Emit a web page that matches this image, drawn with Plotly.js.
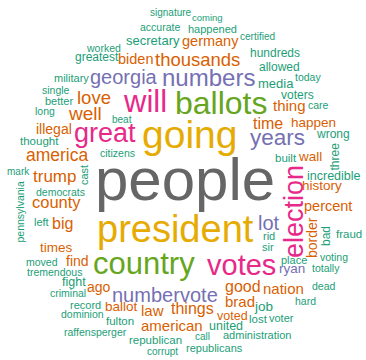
<!DOCTYPE html>
<html>
<head>
<meta charset="utf-8">
<script src="https://cdn.plot.ly/plotly-3.0.1.min.js"></script>
<style>html,body{margin:0;padding:0;background:#fff;}#chart{width:366px;height:360px;}</style>
</head>
<body>
<div id="chart"></div>
<script>
// Word cloud data: word, weight (rendered size), cloud position, colour group, orientation
var words = ["signature","coming","accurate","happened","certified","secretary","germany","worked","hundreds","greatest",
"biden","thousands","allowed","today","military","georgia","numbers","media","single","voters",
"better","love","will","ballots","thing","care","long","well","beat","time",
"happen","illegal","great","going","years","wrong","thought","built","wall","citizens",
"america","mark","people","incredible","trump","history","democrats","county","percent","lot",
"left","big","president","rid","fraud","sir","times","voting","moved","find",
"country","votes","place","ryan","totally","tremendous","fight","dead","criminal","ago",
"number","vote","good","nation","record","ballot","law","things","brad","job",
"dominion","fulton","voted","hard","american","united","lost","voter","raffensperger","republican",
"call","administration","corrupt","republicans","cast","pennsylvania","election","border","bad","three"];

var weight = [10,9.5,10.5,11,10,13,14.5,10.5,12,12,
14.5,18.5,12,10.5,11,20,24,13,10.5,12,
11,18.5,31,32,15,10.5,10.5,19,10,16,
13.5,14,27,39,22.5,12,11.5,11.5,13.5,10.5,
17.5,10,60,12.5,17,13.5,10.5,16.5,14.5,20,
11,16,38,11,11.5,11,13.5,10.5,10.5,14,
31,29,11,13.5,10.5,10.5,12.5,10.5,10.5,14,
20,20,16,15,11,13.5,15,16,15,13.5,
10.5,11.5,12.5,10.5,15,12.5,11.5,11,10.5,11.5,
10,11,10,11,11,10.5,27,14,12,12];

var wordX = [170.5,207,160,212,257.5,152.5,210,103,275,96.5,
135.5,197.5,279,308,71.5,123.5,208.5,275.5,55.5,297,
59,94,144.5,221.5,289,318,44.5,84.5,122,267.5,
313.5,54,105,189.5,277.5,332.5,39.5,285.5,310,117.5,
57,18,184.5,333.5,54.5,322,60,56.5,327.5,269,
41.5,62,175.5,268.5,349,267.5,56.5,333.5,42,77.5,
143.5,241,294,291.5,326,54.5,73.5,323.5,67.5,99,
146,199,242.5,283,85,121,152,192.5,240,263.5,
82,120,232.5,305,171.5,226,258,281.5,95,155.5,
202,256.5,162,214,84,19.5,293.5,312,326,334];

var wordY = [13,18,28,30,37,42,42,49,54,58,
60,61,68,78,79,79,80,85,91,96,
102,99,104,106,107,106,112,115,120,125,
124,130,135,138,140,135,142,159,158,154,
157,172,185,177,178,187,193,203,207,225,
223,225,232,237,235,248,249,258,263,262,
266,268,261,270,269,273,283,287,294,288,
297,297,288,290,306,308,312,310,303,308,
315,322,317,302,327,327,320,319,333,341,
337,336,352,349,175,212,211.5,238,236,156.5];

// colour group: 0 teal, 1 orange, 2 purple, 3 pink, 4 green, 5 yellow, 6 grey
var colorGroup = [0,0,0,0,0,0,1,0,0,0,
1,1,0,0,0,2,2,0,0,0,
0,1,3,4,1,0,0,1,0,1,
1,1,3,5,2,0,0,0,1,0,
1,0,6,0,1,1,0,1,1,2,
0,1,5,0,0,0,1,0,0,1,
4,3,0,2,0,0,0,0,0,1,
2,2,1,1,0,1,1,1,1,0,
0,0,1,0,1,0,0,0,0,0,
0,0,0,0,0,0,3,1,0,0];

// orientation: 1 = vertical (reads bottom to top)
var vertical = [0,0,0,0,0,0,0,0,0,0,
0,0,0,0,0,0,0,0,0,0,
0,0,0,0,0,0,0,0,0,0,
0,0,0,0,0,0,0,0,0,0,
0,0,0,0,0,0,0,0,0,0,
0,0,0,0,0,0,0,0,0,0,
0,0,0,0,0,0,0,0,0,0,
0,0,0,0,0,0,0,0,0,0,
0,0,0,0,0,0,0,0,0,0,
0,0,0,0,1,1,1,1,1,1];

var palette = ["#1B9E77","#D95F02","#7570B3","#E7298A","#66A61E","#E6AB02","#666666"];

var annotations = words.map(function(w, i){
  var s = weight[i];
  return {
    x: wordX[i],
    y: vertical[i] ? wordY[i] : wordY[i] - 0.09 * s,
    xref: "x", yref: "y",
    text: w,
    showarrow: false,
    xanchor: "center", yanchor: "middle",
    textangle: vertical[i] ? -90 : 0,
    borderpad: 0,
    font: {family: "Liberation Sans, Arial, Helvetica, sans-serif", size: s, color: palette[colorGroup[i]]}
  };
});

var layout = {
  width: 366, height: 360,
  margin: {l: 0, r: 0, t: 0, b: 0},
  paper_bgcolor: "#ffffff", plot_bgcolor: "#ffffff",
  xaxis: {range: [0, 366], visible: false, fixedrange: true},
  yaxis: {range: [360, 0], visible: false, fixedrange: true},
  showlegend: false,
  annotations: annotations
};

Plotly.newPlot("chart", [{x: [], y: [], type: "scatter", mode: "markers", hoverinfo: "skip"}], layout, {displayModeBar: false, staticPlot: true});
</script>
</body>
</html>
